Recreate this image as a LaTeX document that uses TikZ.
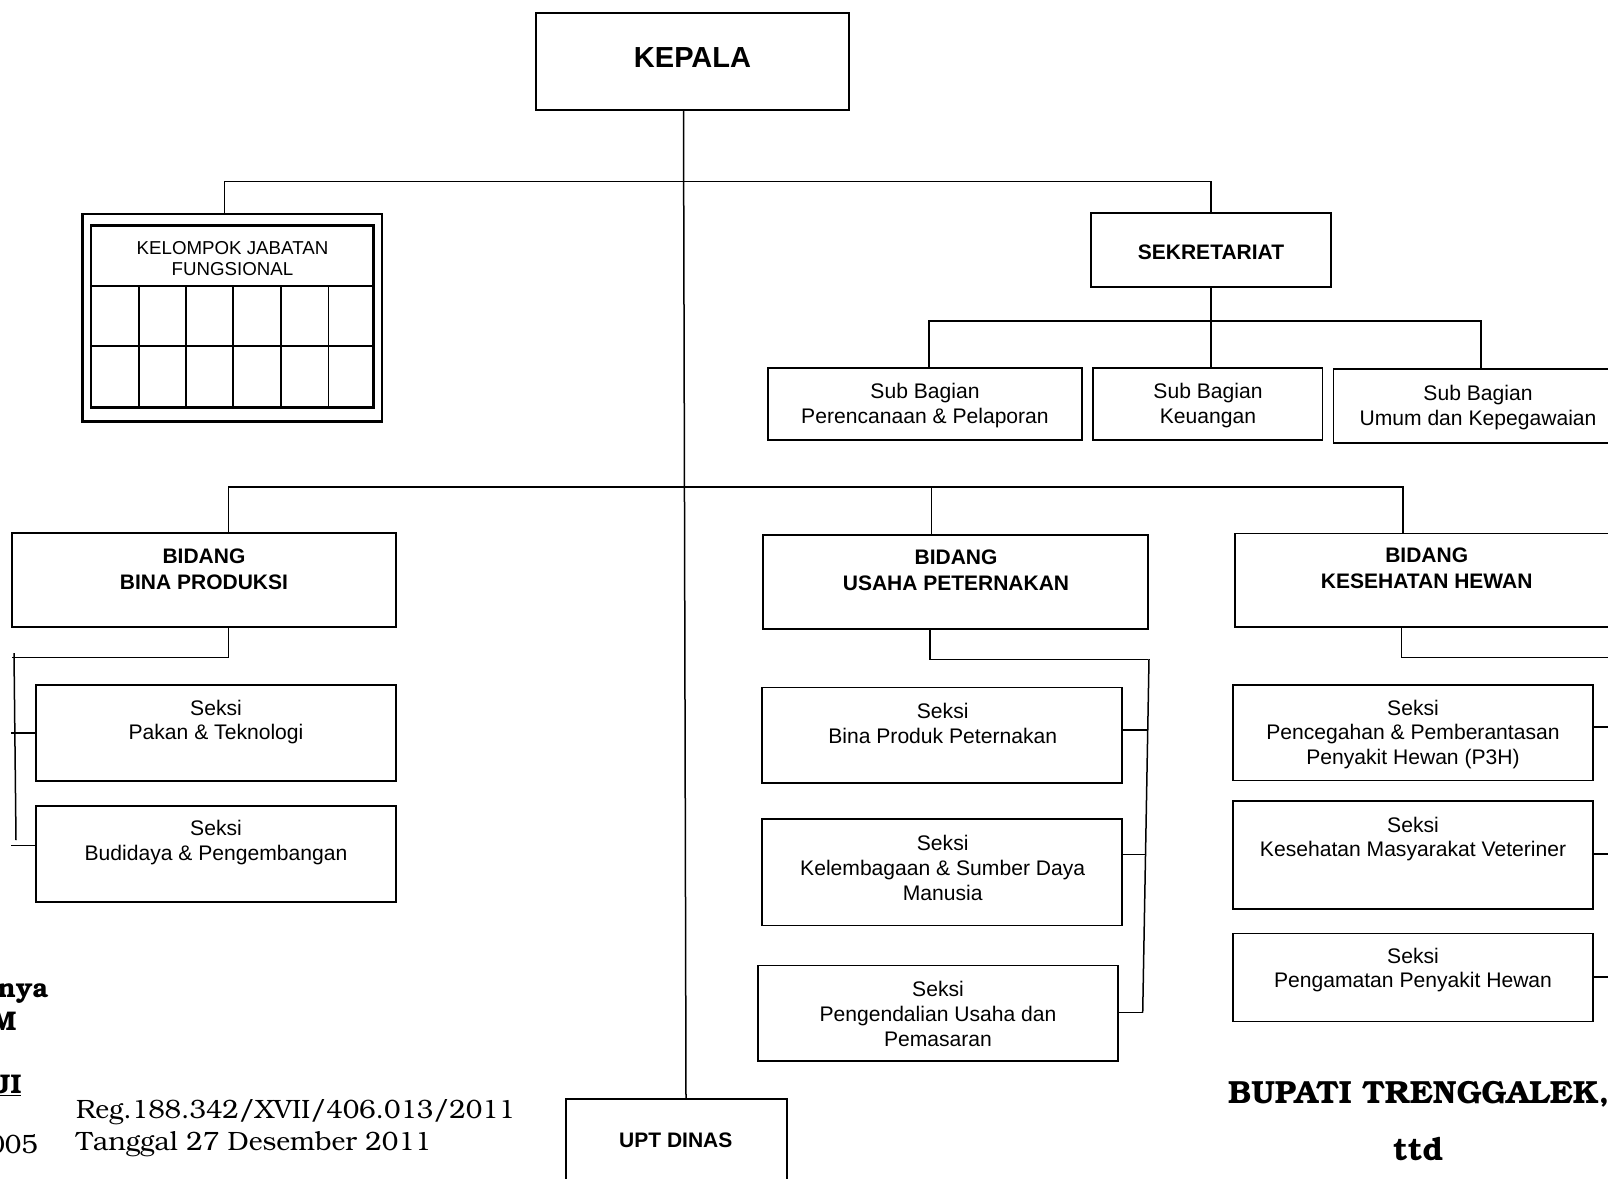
\documentclass[tikz,border=0pt]{standalone}
\usepackage{fontspec}
\usepackage[T1,TU]{fontenc}
\newfontfamily\arial{Liberation Sans}
\newcommand\bkreg{\fontencoding{T1}\fontfamily{pbk}\fontseries{l}\fontshape{n}\fontsize{26.5}{30}\selectfont}
\newcommand\bkbold{\fontencoding{T1}\fontfamily{pbk}\fontseries{db}\fontshape{n}\fontsize{27}{30}\selectfont}
\newcommand\bkbig{\fontencoding{T1}\fontfamily{pbk}\fontseries{db}\fontshape{n}\fontsize{32}{35}\selectfont}
\begin{document}
\begin{tikzpicture}[x=1pt,y=-1pt,
  box/.style={draw=black, line width=1.7pt, rectangle, inner sep=0pt},
  link/.style={draw=black, line width=1.5pt},
  txt/.style={inner sep=0pt, align=center, font=\arial\fontsize{21.1}{24.6}\selectfont},
  head/.style={inner sep=0pt, align=center, font=\arial\bfseries\fontsize{21}{25.6}\selectfont},
  doc/.style={inner sep=0pt}]
\clip (0,0) rectangle (1608,1178);
\fill[white] (0,0) rectangle (1608,1178);

% ---- boxes ----
\node[box, minimum width=313pt, minimum height=97pt] (kepala) at (692.5,61.5) {};
\node[box, line width=2.4pt, minimum width=299.5pt, minimum height=207.5pt] (kjf) at (232.25,317.75) {};
\node[box, line width=2.4pt, minimum width=282.3pt, minimum height=182pt] (kjfin) at (232.15,316.3) {};
\node[box, minimum width=240pt, minimum height=74pt] (sek) at (1211,250) {};
\node[box, minimum width=314pt, minimum height=71.7pt] (sbp) at (925,404.15) {};
\node[box, minimum width=229.9pt, minimum height=71.7pt] (sbk) at (1207.65,404.15) {};
\node[box, minimum width=306.5pt, minimum height=73.4pt] (sbu) at (1486.75,406) {};
\node[box, minimum width=384.3pt, minimum height=94.3pt] (bp) at (203.85,579.85) {};
\node[box, minimum width=360.3pt, minimum height=96pt] (pakan) at (215.85,733) {};
\node[box, minimum width=360.3pt, minimum height=96pt] (budi) at (215.85,853.7) {};
\node[box, minimum width=385pt, minimum height=94pt] (up) at (955.5,582) {};
\node[box, minimum width=360.3pt, minimum height=95.6pt] (bpp) at (941.85,735.2) {};
\node[box, minimum width=360.3pt, minimum height=106.4pt] (kel) at (941.85,872.2) {};
\node[box, minimum width=360pt, minimum height=95.4pt] (peng) at (938,1013.3) {};
\node[box, minimum width=385pt, minimum height=93.4pt] (kh) at (1427.5,580.3) {};
\node[box, minimum width=360pt, minimum height=95.6pt] (p3h) at (1413,732.8) {};
\node[box, minimum width=360pt, minimum height=108pt] (kmv) at (1413,855) {};
\node[box, minimum width=360pt, minimum height=88.2pt] (pam) at (1413,977.5) {};
\node[box, minimum width=220.7pt, minimum height=101pt] (upt) at (676.35,1149.5) {};

% ---- grid of the functional group ----
\draw[line width=2.2pt] (kjfin.west |- 0,285.7) -- (kjfin.east |- 0,285.7);
\draw[line width=2pt] (kjfin.west |- 0,346) -- (kjfin.east |- 0,346);
\foreach \cx in {138.7,185.7,232.7,280.7,328.3}
  \draw[line width=1.6pt] (\cx,285.7) -- (\cx,407.3);

% ---- texts ----
\node[inner sep=0pt, font=\arial\bfseries\fontsize{29}{32}\selectfont] (kepala-t) at (692.5,57.5) {KEPALA};
\node[txt, font=\arial\fontsize{18.7}{20.5}\selectfont] (kjf-t) at (232.5,258.5) {KELOMPOK JABATAN\\FUNGSIONAL};
\node[head] (sek-t) at (1211,252) {SEKRETARIAT};
\node[txt] (sbp-t) at (925,405.3) {Sub Bagian\\Perencanaan \& Pelaporan};
\node[txt] (sbk-t) at (1208,405.3) {Sub Bagian\\Keuangan};
\node[txt] (sbu-t) at (1478,407.5) {Sub Bagian\\Umum dan Kepegawaian};
\node[head] (bp-t) at (204,569) {BIDANG\\BINA PRODUKSI};
\node[txt] (pakan-t) at (216,722) {Seksi\\Pakan \& Teknologi};
\node[txt] (budi-t) at (216,842.5) {Seksi\\Budidaya \& Pengembangan};
\node[head] (up-t) at (956,570) {BIDANG\\USAHA PETERNAKAN};
\node[txt] (bpp-t) at (942.7,723.5) {Seksi\\Bina Produk Peternakan};
\node[txt] (kel-t) at (942.7,868) {Seksi\\Kelembagaan \& Sumber Daya\\Manusia};
\node[txt] (peng-t) at (938,1014) {Seksi\\Pengendalian Usaha dan\\Pemasaran};
\node[head] (kh-t) at (1426.7,568.5) {BIDANG\\KESEHATAN HEWAN};
\node[txt] (p3h-t) at (1413,734.5) {Seksi\\Pencegahan \& Pemberantasan\\Penyakit Hewan (P3H)};
\node[txt] (kmv-t) at (1413,839) {Seksi\\Kesehatan Masyarakat Veteriner};
\node[txt] (pam-t) at (1413,970) {Seksi\\Pengamatan Penyakit Hewan};
\node[head] (upt-t) at (675.8,1140.5) {UPT DINAS};

% ---- junction points ----
\coordinate (sp-top) at (683.5,110);
\coordinate (sp-bot) at (686,1099);
\coordinate (tb-l) at (224.4,181.5);
\coordinate (tb-r) at (1211,181.5);
\coordinate (sb-l) at (929,321);
\coordinate (sb-r) at (1481,321);
\coordinate (mb-l) at (228.3,487);
\coordinate (mb-c) at (931.7,487);
\coordinate (mb-r) at (1403,487);
\coordinate (bpl-a) at (228.3,657.4);
\coordinate (bpl-b) at (11.7,657.4);
\coordinate (bpl-top) at (14,653);
\coordinate (bpl-bot) at (16,840);
\coordinate (bpl-t1) at (11,733);
\coordinate (bpl-t2) at (11,845.7);
\coordinate (upl-a) at (930,659.4);
\coordinate (upl-b) at (1148,659.4);
\coordinate (upl-top) at (1149,659);
\coordinate (upl-bot) at (1142.7,1012.7);
\coordinate (upl-t1) at (1147.7,730);
\coordinate (upl-t2) at (1145.5,854.6);
\coordinate (khl-a) at (1401.7,657.4);
\coordinate (khl-b) at (1615,657.4);
\coordinate (khl-t1) at (1615,727);
\coordinate (khl-t2) at (1615,853.8);
\coordinate (khl-t3) at (1615,977);

% ---- connectors ----
\draw[link] (kepala.south -| sp-top) -- (upt.north -| sp-bot);
\draw[link] (kjf.north -| tb-l) -- (tb-l) -- (tb-r) -- (sek.north);
\draw[link] (sek.south) -- (sbk.north -| sek.south);
\draw[link] (sbp.north -| sb-l) -- (sb-l) -- (sb-r) -- (sbu.north -| sb-r);
\draw[link] (bp.north -| mb-l) -- (mb-l) -- (mb-r) -- (kh.north -| mb-r);
\draw[link] (mb-c) -- (up.north -| mb-c);
% Bina Produksi
\draw[link] (bp.south -| bpl-a) -- (bpl-a) -- (bpl-b);
\draw[link] (bpl-top) -- (bpl-bot);
\draw[link] (bpl-t1) -- (bpl-t1 -| pakan.west);
\draw[link] (bpl-t2) -- (bpl-t2 -| budi.west);
% Usaha Peternakan
\draw[link] (up.south -| upl-a) -- (upl-a) -- (upl-b);
\draw[link] (upl-top) -- (upl-bot);
\draw[link] (upl-t1 -| bpp.east) -- (upl-t1);
\draw[link] (upl-t2 -| kel.east) -- (upl-t2);
\draw[link] (upl-bot -| peng.east) -- (upl-bot);
% Kesehatan Hewan
\draw[link] (kh.south -| khl-a) -- (khl-a) -- (khl-b);
\draw[link] (khl-t1 -| p3h.east) -- (khl-t1);
\draw[link] (khl-t2 -| kmv.east) -- (khl-t2);
\draw[link] (khl-t3 -| pam.east) -- (khl-t3);

% ---- document texts ----
\node[doc, anchor=base east] (nya) at (48.5,997) {\bkbold nya};
\node[doc, anchor=base east] (mm) at (16.5,1030) {\bkbold M};
\node[doc, anchor=base east] (ji) at (21.5,1093) {\bkbold\underline{JI}};
\node[doc, anchor=base east] (nip) at (38,1153) {\bkreg 005};
\node[doc, anchor=base west] (reg) at (76,1118) {\bkreg Reg.188.342/XVII/406.013/2011};
\node[doc, anchor=base west] (tgl) at (76,1150) {\bkreg Tanggal 27 Desember 2011};
\node[doc, anchor=base west] (bupati) at (1228,1103.3) {\bkbig BUPATI TRENGGALEK,};
\node[doc, anchor=base] (ttd) at (1418,1160) {\bkbig ttd};
\end{tikzpicture}
\end{document}
